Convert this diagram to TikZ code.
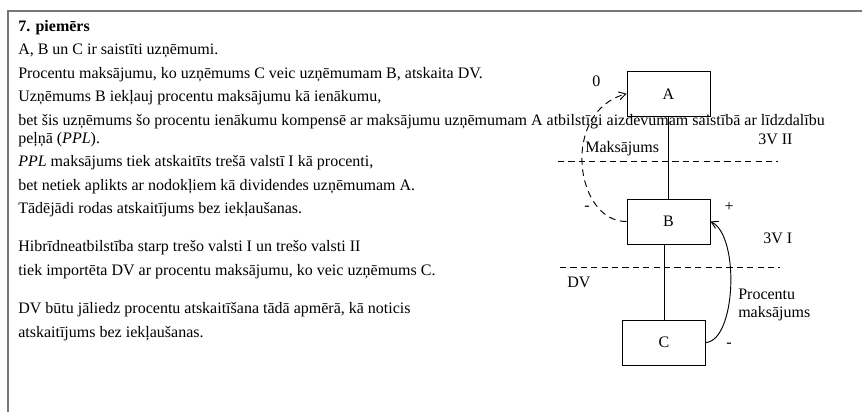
\documentclass[tikz,border=0pt]{standalone}
\usepackage{fontspec}
\setmainfont{Liberation Serif}
\usetikzlibrary{arrows.meta}
\definecolor{framegray}{RGB}{120,120,120}
\begin{document}
\begin{tikzpicture}[x=0.75pt,y=-0.75pt,
  txt/.style={anchor=base west,inner sep=0pt,font=\fontsize{12pt}{14pt}\selectfont},
  lbl/.style={inner sep=0pt,font=\fontsize{12pt}{14pt}\selectfont},
  box/.style={draw,line width=0.7pt,minimum width=62.25pt,minimum height=33.75pt,inner sep=0pt,font=\fontsize{12pt}{14pt}\selectfont},
  sep/.style={line width=0.7pt,dash pattern=on 4.6pt off 3.2pt},
  flow/.style={line width=0.7pt,-{Straight Barb[length=5pt,width=6pt]}},
  dashflow/.style={flow,dash pattern=on 5pt off 3.5pt}]
\useasboundingbox (0,0) rectangle (862,412);
% frame
\draw[framegray,line width=1.5pt] (8,412) -- (8,10.5) -- (862,10.5);

% left-hand text
\node[txt] (t0) at (18,31) {\textbf{7. piemērs}};
\node[txt] (t1) at (18,54.5) {A, B un C ir saistīti uzņēmumi.};
\node[txt] (t2) at (18,78) {Procentu maksājumu, ko uzņēmums C veic uzņēmumam B, atskaita DV.};
\node[txt] (t3) at (18,101.5) {Uzņēmums B iekļauj procentu maksājumu kā ienākumu,};
\node[txt] (t4) at (18,125) {bet šis uzņēmums šo procentu ienākumu kompensē ar maksājumu uzņēmumam A atbilstīgi aizdevumam saistībā ar līdzdalību};
\node[txt] (t5) at (18,143.3) {peļņā (\textit{PPL}).};
\node[txt] (t6) at (18,166.7) {\textit{PPL} maksājums tiek atskaitīts trešā valstī I kā procenti,};
\node[txt] (t7) at (18,190) {bet netiek aplikts ar nodokļiem kā dividendes uzņēmumam A.};
\node[txt] (t8) at (18,213.3) {Tādējādi rodas atskaitījums bez iekļaušanas.};
\node[txt] (t9) at (18,251.7) {Hibrīdneatbilstība starp trešo valsti I un trešo valsti II};
\node[txt] (t10) at (18,275) {tiek importēta DV ar procentu maksājumu, ko veic uzņēmums C.};
\node[txt] (t11) at (18,313.5) {DV būtu jāliedz procentu atskaitīšana tādā apmērā, kā noticis};
\node[txt] (t12) at (18,337) {atskaitījums bez iekļaušanas.};

% company boxes
\node[box] (A) at (668.5,93.75) {A};
\node[box] (B) at (668.5,221.5) {B};
\node[box] (C) at (664,342.5) {C};

% ownership links
\draw[line width=0.7pt] (A.south) -- (B.north);
\draw[line width=0.7pt] (C.north) -- (C.north |- B.south);

% state borders
\coordinate (s1a) at (558,161.5);
\coordinate (s1b) at (778,161.5);
\coordinate (s2a) at (560,267);
\coordinate (s2b) at (780,267);
\draw[sep] (s1a) -- (s1b);
\draw[sep] (s2a) -- (s2b);

% payments
\draw[dashflow] (B.west) .. controls (575,222) and (560,112) .. (A.west);
\draw[flow] (C.east) .. controls (736,340) and (740,236) .. (B.east);

% labels
\node[txt] (l0) at (592,86.7) {0};
\node[txt] (lmk) at (585,152.5) {Maksājums};
\node[txt] (l3v2) at (758,144) {3V II};
\node[lbl] (lmin1) at (587,208) {-};
\node[lbl] (lplus) at (729,207) {+};
\node[txt] (l3v1) at (763,243) {3V I};
\node[txt] (ldv) at (567,287) {DV};
\node[txt] (lpr1) at (738,299) {Procentu};
\node[txt] (lpr2) at (738,317.5) {maksājums};
\node[lbl] (lmin2) at (729,345) {-};
\end{tikzpicture}
\end{document}
